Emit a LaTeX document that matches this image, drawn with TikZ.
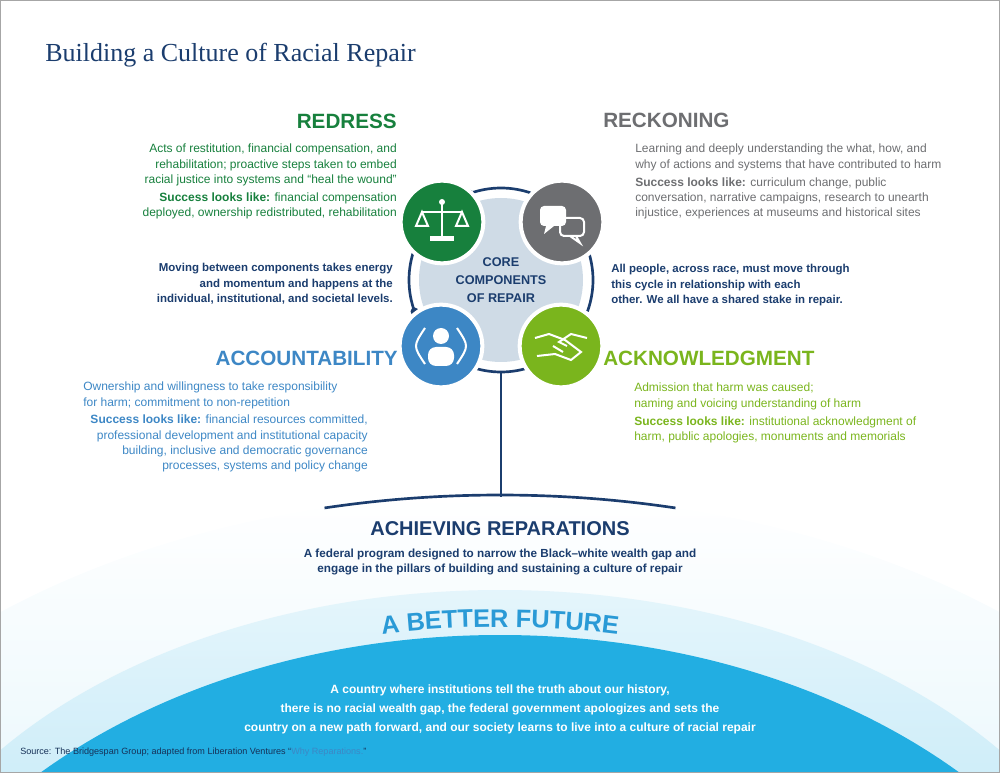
\documentclass[tikz,border=0pt]{standalone}
\usepackage{fontspec}
\setmainfont{Liberation Sans}
\newfontfamily\titlefont{Liberation Serif}
\usetikzlibrary{calc}
\usetikzlibrary{positioning}
\usetikzlibrary{decorations.text}
\definecolor{navy}{HTML}{1B3D6E}
\definecolor{redressgreen}{HTML}{17803D}
\definecolor{reckongray}{HTML}{6D6E71}
\definecolor{accblue}{HTML}{3D87C5}
\definecolor{acklime}{HTML}{7AB51D}
\definecolor{coregray}{HTML}{CFDBE6}
\definecolor{skyblue}{HTML}{22AEE2}
\definecolor{futureblue}{HTML}{2A9AD6}
\tikzset{heading/.style={font=\fontsize{15.5}{18}\selectfont\bfseries,inner sep=0pt},
	bodytext/.style={font=\fontsize{9}{11.4}\selectfont,inner sep=0pt},
	icon/.style={circle,draw=white,line width=3pt,minimum size=62pt,inner sep=0pt},
	ringarc/.style={navy,line width=2pt},
	ringdot/.style={navy,fill,radius=4}}
\begin{document}
\begin{tikzpicture}[x=0.75pt,y=-0.75pt]
		\useasboundingbox (0,0) rectangle (1000,773);
		% domes
		\begin{scope}
			\clip (0,0) rectangle (1000,773);
			\shade[top color=white,bottom color=skyblue!30] (500,1000) ellipse [x radius=780,y radius=505];
			\shade[top color=skyblue!12,bottom color=skyblue!55] (500,1000) ellipse [x radius=630,y radius=410];
			\fill[skyblue] (500,1100) ellipse [x radius=647,y radius=465];
			\draw[navy,line width=2pt] (500,1000) ++(257:780 and 505) arc [start angle=257,end angle=283,x radius=780,y radius=505];
		\end{scope}
		\draw[gray!70,line width=1pt] (0.5,0.5) rectangle (999.5,772.5);
		\node[anchor=west,inner sep=0pt,text=navy,font=\titlefont\fontsize{19.5}{22}\selectfont] (title) at (45,55) {Building a Culture of Racial Repair};
		% core circle
		\fill[coregray] (501,280) circle [radius=82];
		\node[navy,font=\fontsize{9.5}{13.5}\selectfont\bfseries,align=center] (core) at (501,280) {CORE\\COMPONENTS\\OF REPAIR};
		\draw[ringarc] (501,280) ++(250:92) arc [start angle=250,end angle=290,radius=92];
		\fill[ringdot] (501,280) ++(250:92) circle;
		\draw[ringarc] (501,280) ++(340:92) arc [start angle=340,end angle=380,radius=92];
		\fill[ringdot] (501,280) ++(340:92) circle;
		\draw[ringarc] (501,280) ++(70:92) arc [start angle=70,end angle=110,radius=92];
		\fill[ringdot] (501,280) ++(70:92) circle;
		\draw[ringarc] (501,280) ++(160:92) arc [start angle=160,end angle=200,radius=92];
		\fill[ringdot] (501,280) ++(160:92) circle;
		\coordinate (stemtop) at (501,372);
		\coordinate (stembottom) at (501,497);
		\draw[ringarc] (stemtop) -- (stembottom);
		% icons
		\node[icon,fill=redressgreen] (scale) at (442,222) {};
		\node[icon,fill=reckongray] (talk) at (562,222) {};
		\node[icon,fill=accblue] (person) at (441,346) {};
		\node[icon,fill=acklime] (shake) at (561,346) {};
		\begin{scope}[white,line width=1.5pt]
			\draw ($(scale)+(0,-19)$) -- ($(scale)+(0,14)$);
			\fill ($(scale)+(0,-20)$) circle [radius=3];
			\draw ($(scale)+(-20,-10)$) -- ($(scale)+(20,-10)$);
			\draw ($(scale)+(-20,-10)$) -- ($(scale)+(-26,4)$) -- ($(scale)+(-14,4)$) -- cycle;
			\draw ($(scale)+(20,-10)$) -- ($(scale)+(26,4)$) -- ($(scale)+(14,4)$) -- cycle;
			\fill ($(scale)+(-12,14)$) rectangle ($(scale)+(12,19)$);
			\fill[rounded corners=3pt] ($(talk)+(-22,-16)$) rectangle ($(talk)+(4,4)$);
			\fill ($(talk)+(-16,4)$) -- ($(talk)+(-18,12)$) -- ($(talk)+(-8,4)$) -- cycle;
			\draw[rounded corners=3pt] ($(talk)+(-2,-4)$) rectangle ($(talk)+(22,14)$);
			\draw ($(talk)+(14,14)$) -- ($(talk)+(18,21)$) -- ($(talk)+(8,14)$);
			\fill ($(person)+(0,-10)$) circle [radius=8];
			\fill[rounded corners=6pt] ($(person)+(-13,1)$) rectangle ($(person)+(13,20)$);
			\draw ($(person)+(-16,-18)$) .. controls ($(person)+(-28,0)$) .. ($(person)+(-16,18)$);
			\draw ($(person)+(16,-18)$) .. controls ($(person)+(28,0)$) .. ($(person)+(16,18)$);
			\draw ($(shake)+(-26,-8)$) -- ($(shake)+(-12,-12)$) -- ($(shake)+(4,-6)$) -- ($(shake)+(20,6)$) -- ($(shake)+(10,14)$) -- ($(shake)+(-6,8)$) -- ($(shake)+(-24,10)$);
			\draw ($(shake)+(26,-8)$) -- ($(shake)+(10,-12)$) -- ($(shake)+(-2,-4)$) -- ($(shake)+(6,0)$);
			\draw ($(shake)+(-8,0)$) -- ($(shake)+(2,6)$);
		\end{scope}
		% component texts
		\node[heading,text=redressgreen,anchor=base east] (redress) at (397,129) {REDRESS};
		\node[bodytext,text=redressgreen,align=right,anchor=north east] (redresstext) at (397,144) {Acts of restitution, financial compensation, and\\rehabilitation; proactive steps taken to embed\\racial justice into systems and “heal the wound”\\[2pt]\textbf{Success looks like:} financial compensation\\deployed, ownership redistributed, rehabilitation};
		\node[heading,text=reckongray,anchor=base west] (reckoning) at (603,128) {RECKONING};
		\node[bodytext,text=reckongray,align=left,anchor=north west] (reckontext) at (635,144) {Learning and deeply understanding the what, how, and\\why of actions and systems that have contributed to harm\\[2pt]\textbf{Success looks like:} curriculum change, public\\conversation, narrative campaigns, research to unearth\\injustice, experiences at museums and historical sites};
		\node[bodytext,font=\fontsize{8.6}{11.6}\selectfont\bfseries,text=navy,align=right,anchor=north east] (energy) at (393,263) {Moving between components takes energy\\and momentum and happens at the\\individual, institutional, and societal levels.};
		\node[bodytext,font=\fontsize{8.6}{11.6}\selectfont\bfseries,text=navy,align=left,anchor=north west] (cycle) at (611,264) {All people, across race, must move through\\this cycle in relationship with each\\other. We all have a shared stake in repair.};
		\node[heading,text=accblue,anchor=base east] (accountability) at (398,366) {ACCOUNTABILITY};
		\node[bodytext,text=accblue,align=left,anchor=north west] (acctext) at (83,382) {Ownership and willingness to take responsibility\\for harm; commitment to non-repetition};
		\node[bodytext,text=accblue,align=right,anchor=north east] (accsuccess) at (368,415) {\textbf{Success looks like:} financial resources committed,\\professional development and institutional capacity\\building, inclusive and democratic governance\\processes, systems and policy change};
		\node[heading,text=acklime,anchor=base west] (acknowledgment) at (603,366) {ACKNOWLEDGMENT};
		\node[bodytext,text=acklime,align=left,anchor=north west] (acktext) at (634,383) {Admission that harm was caused;\\naming and voicing understanding of harm\\[2pt]\textbf{Success looks like:} institutional acknowledgment of\\harm, public apologies, monuments and memorials};
		% bottom
		\node[navy,font=\fontsize{15}{18}\selectfont\bfseries,inner sep=0pt] (achieving) at (500,529) {ACHIEVING REPARATIONS};
		\node[navy,font=\fontsize{8.8}{11.4}\selectfont\bfseries,align=center,below=6pt of achieving] (program) {A federal program designed to narrow the Black–white wealth gap and\\engage in the pillars of building and sustaining a culture of repair};
		\path[decorate,decoration={text along path,text align=center,text={|\color{futureblue}\fontsize{19}{22}\selectfont\bfseries|A BETTER FUTURE}}] (368,636) .. controls (450,624) and (550,624) .. (632,636);
		\node[white,font=\fontsize{9}{14.3}\selectfont\bfseries,align=center] (country) at (500,709) {A country where institutions tell the truth about our history,\\there is no racial wealth gap, the federal government apologizes and sets the\\country on a new path forward, and our society learns to live into a culture of racial repair};
		\node[anchor=west,inner sep=0pt,text=navy!80!black,font=\fontsize{6.8}{8}\selectfont] (source) at (20,752) {Source: The Bridgespan Group; adapted from Liberation Ventures “\textcolor{accblue}{Why Reparations.}”};
	\end{tikzpicture}
\end{document}
